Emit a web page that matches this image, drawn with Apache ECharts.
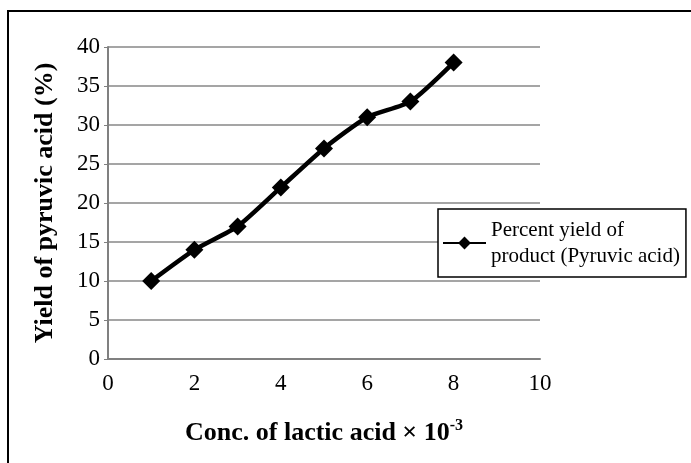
<!DOCTYPE html>
<html>
<head>
<meta charset="utf-8">
<script src="https://cdn.jsdelivr.net/npm/echarts@6/dist/echarts.min.js"></script>
<style>
  html, body { margin: 0; padding: 0; background: #fff; }
  #chart { width: 691px; height: 463px; }
</style>
</head>
<body>
<div id="chart"></div>
<script>
// 乳酸浓度 (x) 与丙酮酸产率 (y)
const concValues = [1, 2, 3, 4, 5, 6, 7, 8];
const yieldValues = [10, 14, 17, 22, 27, 31, 33, 38];
const seriesName = 'Percent yield of\nproduct (Pyruvic acid)';

const serif = 'Liberation Serif, Times New Roman, serif';

const chart = echarts.init(document.getElementById('chart'));

const option = {
  backgroundColor: '#fff',
  animation: false,
  graphic: [
    {
      type: 'rect',
      shape: { x: 8, y: 11, width: 700, height: 470 },
      style: { fill: 'none', stroke: '#000', lineWidth: 2 }
    }
  ],
  grid: { left: 108, right: 151, top: 47, bottom: 104 },
  legend: {
    left: 438,
    top: 209,
    padding: [8, 6, 8, 4],
    borderColor: '#000',
    borderWidth: 1.5,
    backgroundColor: '#fff',
    itemWidth: 43,
    itemHeight: 16,
    textStyle: { fontFamily: serif, fontSize: 21, color: '#000', lineHeight: 26 },
    data: [seriesName]
  },
  xAxis: {
    type: 'value',
    min: 0,
    max: 10,
    interval: 2,
    name: '{t|Conc. of lactic acid × 10}{s|-3}',
    nameLocation: 'middle',
    nameGap: 59,
    nameTextStyle: {
      rich: {
        t: { fontFamily: serif, fontSize: 26, fontWeight: 'bold', color: '#000' },
        s: { fontFamily: serif, fontSize: 16, fontWeight: 'bold', color: '#000', verticalAlign: 'top', padding: [0, 0, 14, 0] }
      }
    },
    axisLine: { show: true, lineStyle: { color: '#808080', width: 2 } },
    axisTick: { show: false },
    splitLine: { show: false },
    axisLabel: { fontFamily: serif, fontSize: 23, color: '#000', margin: 13 }
  },
  yAxis: {
    type: 'value',
    min: 0,
    max: 40,
    interval: 5,
    name: 'Yield of pyruvic acid (%)',
    nameLocation: 'middle',
    nameGap: 50,
    nameTextStyle: { fontFamily: serif, fontSize: 26, fontWeight: 'bold', color: '#000' },
    axisLine: { show: true, lineStyle: { color: '#808080', width: 2 } },
    axisTick: { show: true, length: 4, lineStyle: { color: '#808080' } },
    splitLine: { show: true, lineStyle: { color: '#878787', width: 1.5 } },
    axisLabel: { fontFamily: serif, fontSize: 23, color: '#000', margin: 8 }
  },
  series: [
    {
      name: seriesName,
      type: 'line',
      data: concValues.map((x, i) => [x, yieldValues[i]]),
      smooth: 0.2,
      symbol: 'diamond',
      symbolSize: 18,
      lineStyle: { color: '#000', width: 4.5 },
      itemStyle: { color: '#000' }
    }
  ]
};

chart.setOption(option);
</script>
</body>
</html>
